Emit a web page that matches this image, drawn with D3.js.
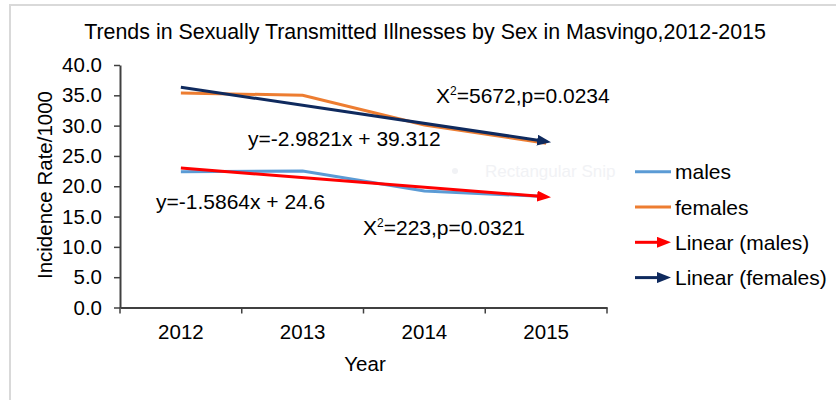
<!DOCTYPE html>
<html>
<head>
<meta charset="utf-8">
<script src="https://cdn.jsdelivr.net/npm/d3@7"></script>
<style>
  body { margin: 0; background: #fff; }
  text { font-family: "Liberation Sans", Arial, sans-serif; fill: #000; }
</style>
</head>
<body>
<div id="chart"></div>
<script>
let width = 836,
    height = 400;

// data
const years = ["2012", "2013", "2014", "2015"];
const males = [22.4, 22.5, 19.2, 18.3];
const females = [35.4, 35.0, 30.1, 27.1];
const yTicks = [0, 5, 10, 15, 20, 25, 30, 35, 40];

// trend lines (as printed on the chart)
const trendNames = ["Linear (males)", "Linear (females)"];
const trendSlope = [-1.5864, -2.9821];
const trendIntercept = [24.6, 39.312];
const trendLabels = ["y=-1.5864x + 24.6", "y=-2.9821x + 39.312"];
const chiLabels = [["223", "0.0321"], ["5672", "0.0234"]];

const colors = {
  males: "#5b9bd5",
  females: "#ed7d31",
  lmales: "#ff0000",
  lfemales: "#0f2a5e"
};

const svg = d3.select("#chart")
  .append("svg")
  .attr("width", width)
  .attr("height", height);

// light frame
svg.append("path")
  .attr("d", "M10,400 L10,5 L836,5")
  .attr("fill", "none")
  .attr("stroke", "#d9d9d9")
  .attr("stroke-width", 2);

const x = d3.scaleBand().domain(years).range([120, 607]);
const y = d3.scaleLinear().domain([0, 40]).range([307.5, 65]);
const xi = d3.scaleLinear()
  .domain([1, years.length])
  .range([x(years[0]) + x.bandwidth() / 2, x(years[years.length - 1]) + x.bandwidth() / 2]);

// title
svg.append("text")
  .attr("x", 425)
  .attr("y", 39)
  .attr("text-anchor", "middle")
  .style("font-size", "21.4px")
  .text("Trends in Sexually Transmitted Illnesses by Sex in Masvingo,2012-2015");

// faint watermark left by the screen capture
svg.append("circle").attr("cx", 455).attr("cy", 171).attr("r", 3).attr("fill", "#f1f2f5");
svg.append("text")
  .attr("x", 485).attr("y", 177)
  .style("font-size", "17px")
  .style("fill", "#f1f2f5")
  .text("Rectangular Snip");

// y axis
const yAxis = svg.append("g")
  .attr("transform", "translate(120,0)")
  .call(d3.axisLeft(y).tickValues(yTicks).tickFormat(d3.format(".1f"))
    .tickSize(6).tickSizeOuter(0).tickPadding(12));
yAxis.selectAll("text").style("font-size", "20.5px").attr("fill", "#000");

// x axis
const xAxis = svg.append("g")
  .attr("transform", "translate(0,307.5)")
  .call(d3.axisBottom(x).tickSize(0).tickPadding(17));
xAxis.selectAll("text").style("font-size", "20.5px").attr("fill", "#000");

let bounds = years.map(d => x(d)).concat([x.range()[1]]);
xAxis.selectAll(".bound")
  .data(bounds)
  .enter().append("line")
  .attr("class", "bound")
  .attr("x1", d => d).attr("x2", d => d)
  .attr("y1", 0).attr("y2", 6)
  .attr("stroke", "#404040")
  .attr("stroke-width", 1.5);

svg.selectAll(".domain").attr("stroke", "#404040").attr("stroke-width", 2);
svg.selectAll(".tick line").attr("stroke", "#404040").attr("stroke-width", 1.5);

// axis titles
svg.append("text")
  .attr("x", 365)
  .attr("y", 371)
  .attr("text-anchor", "middle")
  .style("font-size", "20.5px")
  .text("Year");

svg.append("text")
  .attr("transform", "translate(52,185) rotate(-90)")
  .attr("text-anchor", "middle")
  .style("font-size", "20.5px")
  .text("Incidence Rate/1000");

// arrow markers
const defs = svg.append("defs");
[["arrow-m", colors.lmales], ["arrow-f", colors.lfemales]].forEach(function (m) {
  defs.append("marker")
    .attr("id", m[0])
    .attr("markerUnits", "userSpaceOnUse")
    .attr("markerWidth", 14)
    .attr("markerHeight", 11)
    .attr("refX", 9)
    .attr("refY", 5.5)
    .attr("orient", "auto")
    .append("path")
    .attr("d", "M0,0 L14,5.5 L0,11 Z")
    .attr("fill", m[1]);
});

const line = d3.line()
  .x((d, i) => x(years[i]) + x.bandwidth() / 2)
  .y(d => y(d));

svg.append("path")
  .datum(males)
  .attr("d", line)
  .attr("fill", "none")
  .attr("stroke", colors.males)
  .attr("stroke-width", 3);

svg.append("path")
  .datum(females)
  .attr("d", line)
  .attr("fill", "none")
  .attr("stroke", colors.females)
  .attr("stroke-width", 3);

// trend lines
const trendColors = [colors.lmales, colors.lfemales];
const markers = ["arrow-m", "arrow-f"];
trendSlope.forEach(function (s, k) {
  let pts = [1, years.length].map(t => [xi(t), y(s * t + trendIntercept[k])]);
  svg.append("path")
    .attr("d", d3.line()(pts))
    .attr("fill", "none")
    .attr("stroke", trendColors[k])
    .attr("stroke-width", 3)
    .attr("marker-end", "url(#" + markers[k] + ")");
});

// equations and chi-square
const eqPos = [[156, 209], [248, 146]];
trendLabels.forEach(function (t, k) {
  svg.append("text")
    .attr("x", eqPos[k][0]).attr("y", eqPos[k][1])
    .style("font-size", "21px")
    .text(t);
});

const chiPos = [[363, 235], [436, 103]];
chiLabels.forEach(function (c, k) {
  let t = svg.append("text")
    .attr("x", chiPos[k][0]).attr("y", chiPos[k][1])
    .style("font-size", "21px");
  t.append("tspan").text("X");
  t.append("tspan").attr("dy", -8).style("font-size", "12px").text("2");
  t.append("tspan").attr("dy", 8).text("=" + c[0] + ",p=" + c[1]);
});

// legend
const legendItems = [
  {name: "males", color: colors.males, arrow: null},
  {name: "females", color: colors.females, arrow: null},
  {name: trendNames[0], color: colors.lmales, arrow: "arrow-m"},
  {name: trendNames[1], color: colors.lfemales, arrow: "arrow-f"}
];

let legend = svg.selectAll(".legend")
  .data(legendItems)
  .enter().append("g")
  .attr("class", "legend")
  .attr("transform", (d, i) => "translate(635," + (171.7 + i * 35.3) + ")");

legend.append("line")
  .attr("x1", 0)
  .attr("x2", d => d.arrow ? 31 : 36)
  .attr("y1", 0).attr("y2", 0)
  .attr("stroke", d => d.color)
  .attr("stroke-width", 3)
  .attr("marker-end", d => d.arrow ? "url(#" + d.arrow + ")" : null);

legend.append("text")
  .attr("x", 40)
  .attr("y", 7.5)
  .style("font-size", "21px")
  .text(d => d.name);
</script>
</body>
</html>
